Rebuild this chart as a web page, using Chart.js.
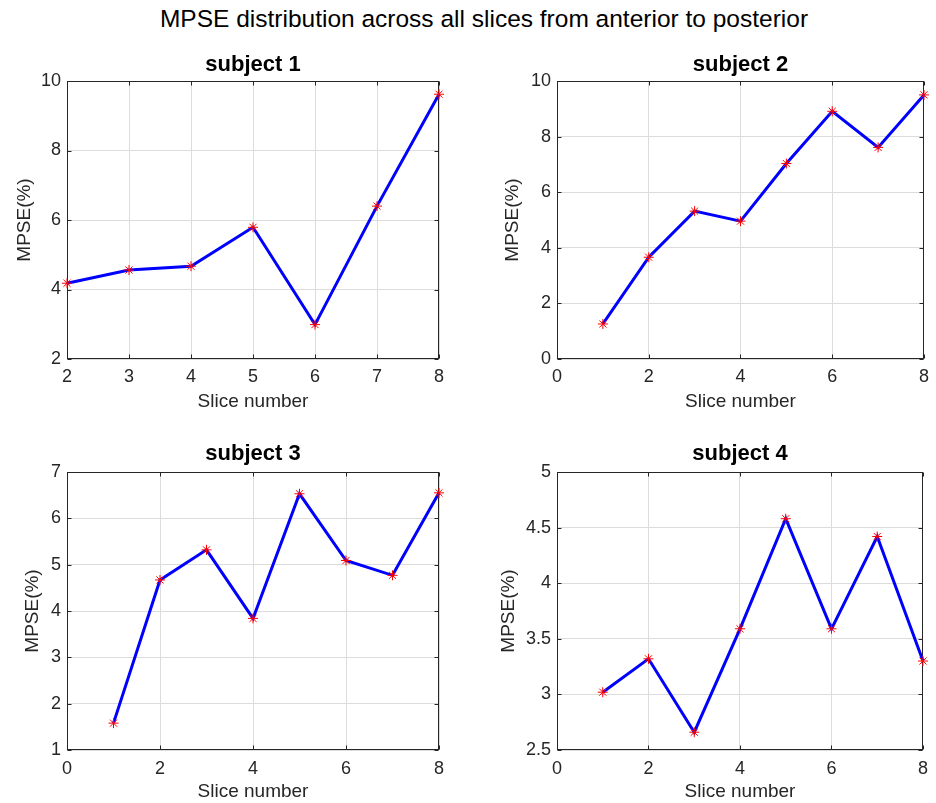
<!DOCTYPE html>
<html>
<head>
<meta charset="utf-8">
<title>MPSE distribution</title>
<script src="https://cdn.jsdelivr.net/npm/chart.js@4.4.1/dist/chart.umd.min.js"></script>
<style>
  html, body { margin: 0; padding: 0; background: #fff; }
  body { width: 936px; height: 803px; position: relative; overflow: hidden;
         font-family: 'Liberation Sans', Arial, Helvetica, sans-serif; }
  #suptitle { position: absolute; top: 4px; left: 484px; transform: translateX(-50%);
              font-size: 24.5px; line-height: 30px; color: #000; white-space: nowrap; }
  canvas { position: absolute; }
</style>
</head>
<body>
<div id="suptitle">MPSE distribution across all slices from anterior to posterior</div>
<canvas id="s1" width="460" height="361" style="left:0;top:52px"></canvas>
<canvas id="s2" width="468" height="361" style="left:468px;top:52px"></canvas>
<canvas id="s3" width="460" height="362" style="left:0;top:441px"></canvas>
<canvas id="s4" width="468" height="362" style="left:468px;top:441px"></canvas>
<script>
// data
const slicesS1 = [2, 3, 4, 5, 6, 7, 8];
const slices   = [1, 2, 3, 4, 5, 6, 7, 8];
const mpseS1 = [4.18, 4.56, 4.67, 5.79, 2.99, 6.40, 9.62];
const mpseS2 = [1.26, 3.66, 5.32, 4.96, 7.03, 8.91, 7.61, 9.50];
const mpseS3 = [1.58, 4.67, 5.32, 3.84, 6.53, 5.09, 4.77, 6.55];
const mpseS4 = [3.02, 3.32, 2.66, 3.59, 4.58, 3.59, 4.42, 3.30];

// tick labels
const xTicksS1 = [2, 3, 4, 5, 6, 7, 8];
const xTicks   = [0, 2, 4, 6, 8];
const yTicksS1 = [2, 4, 6, 8, 10];
const yTicksS2 = [0, 2, 4, 6, 8, 10];
const yTicksS3 = [1, 2, 3, 4, 5, 6, 7];
const yTicksS4 = [2.5, 3, 3.5, 4, 4.5, 5];

Chart.defaults.font.family = "'Liberation Sans', Arial, Helvetica, sans-serif";
Chart.defaults.color = '#262626';

// matlab-ish axes box with inward tick marks
const framePlugin = {
  id: 'frame',
  beforeDatasetsDraw(chart) {
    const { ctx, chartArea: a, scales: { x, y } } = chart;
    const l = Math.round(a.left) + 0.5, r = Math.round(a.right) - 0.5;
    const t = Math.round(a.top) + 0.5,  b = Math.round(a.bottom) - 0.5;
    ctx.save();
    ctx.strokeStyle = '#262626';
    ctx.lineWidth = 1;
    ctx.strokeRect(l, t, r - l, b - t);
    ctx.beginPath();
    x.ticks.forEach(tk => {
      const px = Math.round(x.getPixelForValue(tk.value)) + 0.5;
      ctx.moveTo(px, b); ctx.lineTo(px, b - 4);
      ctx.moveTo(px, t); ctx.lineTo(px, t + 4);
    });
    y.ticks.forEach(tk => {
      const py = Math.round(y.getPixelForValue(tk.value)) + 0.5;
      ctx.moveTo(l, py); ctx.lineTo(l + 4, py);
      ctx.moveTo(r, py); ctx.lineTo(r - 4, py);
    });
    ctx.stroke();
    ctx.restore();
  }
};

function makePanel(id, title, xs, ys, xTickVals, yTickVals, g) {
  const ctx = document.getElementById(id).getContext('2d');
  return new Chart(ctx, {
    type: 'line',
    data: {
      datasets: [{
        data: xs.map((v, i) => ({ x: v, y: ys[i] })),
        borderColor: '#0000ff',
        borderWidth: 3,
        tension: 0,
        pointStyle: 'star',
        pointRadius: 5,
        pointBorderColor: '#ff0000',
        pointBorderWidth: 1,
        pointBackgroundColor: '#ff0000',
        clip: false
      }]
    },
    options: {
      responsive: false,
      animation: false,
      layout: { padding: { left: 0, right: g.padRight, top: 0, bottom: 0 } },
      plugins: {
        legend: { display: false },
        tooltip: { enabled: false },
        title: {
          display: true, text: title, color: '#000',
          fullSize: false,
          font: { size: 22, weight: 'bold' },
          padding: { top: 0, bottom: g.titlePad }
        }
      },
      scales: {
        x: {
          type: 'linear',
          min: xTickVals[0], max: xTickVals[xTickVals.length - 1],
          afterBuildTicks: s => { s.ticks = xTickVals.map(v => ({ value: v })); },
          afterFit: s => { s.height = g.xHeight; },
          grid: { color: '#dcdcdc', drawTicks: false },
          border: { display: false },
          ticks: { padding: g.xTickPad, font: { size: 18 }, maxRotation: 0, callback: v => String(v) },
          title: { display: true, text: 'Slice number', font: { size: 19 }, padding: 0 }
        },
        y: {
          min: yTickVals[0], max: yTickVals[yTickVals.length - 1],
          afterBuildTicks: s => { s.ticks = yTickVals.map(v => ({ value: v })); },
          afterFit: s => { s.width = g.yWidth; },
          grid: { color: '#dcdcdc', drawTicks: false },
          border: { display: false },
          ticks: { padding: 6, font: { size: 18 }, callback: v => String(v) },
          title: { display: true, text: 'MPSE(%)', font: { size: 19 }, padding: { top: g.yTitlePad, bottom: 0 } }
        }
      }
    },
    plugins: [framePlugin]
  });
}

makePanel('s1', 'subject 1', slicesS1, mpseS1, xTicksS1, yTicksS1,
  { padRight: 21, titlePad: 2.6, xHeight: 54, xTickPad: 7, yWidth: 67, yTitlePad: 13.6 });
makePanel('s2', 'subject 2', slices, mpseS2, xTicks, yTicksS2,
  { padRight: 9, titlePad: 2.6, xHeight: 54, xTickPad: 7, yWidth: 89, yTitlePad: 33.6 });
makePanel('s3', 'subject 3', slices, mpseS3, xTicks, yTicksS3,
  { padRight: 21, titlePad: 4.6, xHeight: 53, xTickPad: 8, yWidth: 67, yTitlePad: 21.6 });
makePanel('s4', 'subject 4', slices, mpseS4, xTicks, yTicksS4,
  { padRight: 9, titlePad: 4.6, xHeight: 53, xTickPad: 8, yWidth: 89, yTitlePad: 29.6 });
</script>
</body>
</html>
